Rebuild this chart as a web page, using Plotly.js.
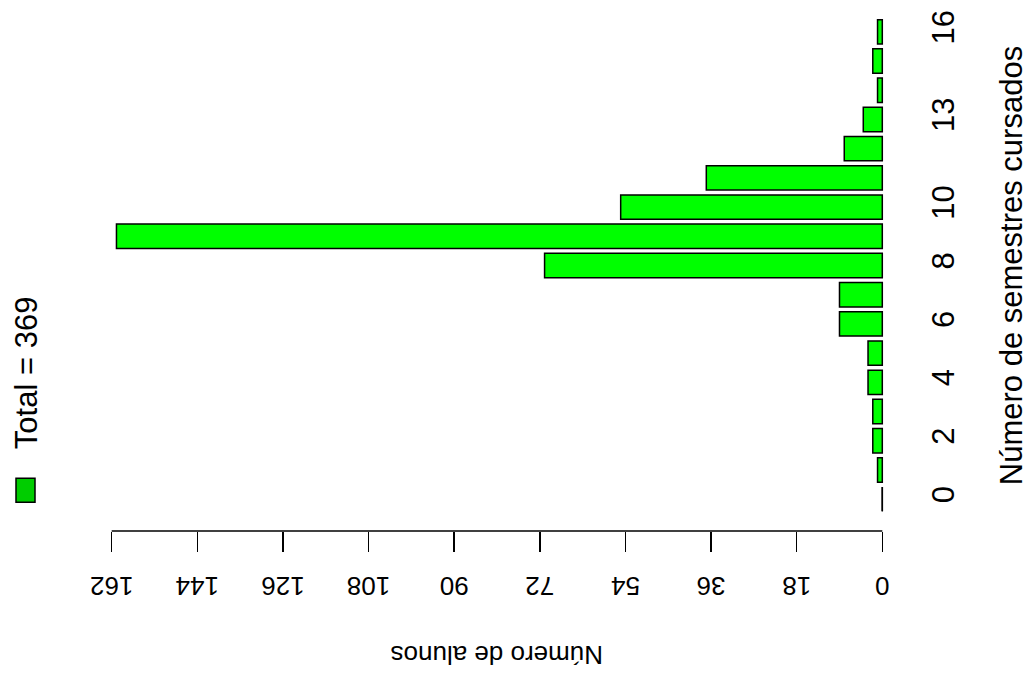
<!DOCTYPE html>
<html>
<head>
<meta charset="utf-8">
<script src="https://cdn.plot.ly/plotly-3.0.1.min.js"></script>
<style>html,body{margin:0;padding:0;background:#fff;}#chart{width:1033px;height:677px;}</style>
</head>
<body>
<div id="chart"></div>
<script>
// Data
const semestres = [0,1,2,3,4,5,6,7,8,9,10,11,12,13,14,15,16];
const alunos    = [0,1,2,2,3,3,9,9,71,161,55,37,8,4,1,2,1];
const semTickVals = [0,2,4,6,8,10,13,16];
const alunosTickVals = [0,18,36,54,72,90,108,126,144,162];
const legendText = "Total = 369";
const xTitle = "Número de alunos";
const yTitle = "Número de semestres cursados";

const FONT = "Liberation Sans, Arial, Helvetica, sans-serif";
const FS_ROT = 31;   // text reading bottom-to-top
const FS_INV = 26;   // upside-down text
const W = 1033, Hh = 677;
const L = 100, R = 890, T = 0, B = 530.8;
const PW = R - L, PH = B - T;
const k = 162 / (882.3 - 111.7);
const xRange = [162 + (111.7 - L) * k, 0 - (R - 882.3) * k];
const yRange = [-1.09, 17.09];
const barW = 1 / 1.2;

function pX(px) { return (px - L) / PW; }
function pY(py) { return (B - py) / PH; }

const shapes = [];
// value axis line from first to last tick
shapes.push({type:'line', xref:'x', yref:'paper', x0:alunosTickVals[0], x1:alunosTickVals[alunosTickVals.length-1], y0:0, y1:0, line:{color:'#000', width:1.5}});
// zero-height bars drawn as lines (as R does)
semestres.forEach((s, i) => {
  if (alunos[i] === 0) {
    shapes.push({type:'line', xref:'x', yref:'y', x0:0, x1:0, y0:s - barW/2, y1:s + barW/2, line:{color:'#000', width:1.5}});
  }
});
// legend box
shapes.push({type:'rect', xref:'paper', yref:'paper', x0:pX(16), x1:pX(35), y0:pY(502), y1:pY(478), fillcolor:'#00CD00', line:{color:'#000', width:1.5}});

const trace = {
  type:'bar', orientation:'h',
  x: alunos, y: semestres, width: barW,
  marker:{color:'#00FF00', line:{color:'#000', width:1.5}},
  hoverinfo:'x+y'
};

const layout = {
  width: W, height: Hh,
  margin:{l:L, r:W - R, t:T, b:Hh - B, pad:0},
  paper_bgcolor:'#fff', plot_bgcolor:'#fff',
  showlegend:false,
  font:{family:FONT, size:24, color:'#000'},
  xaxis:{
    range:xRange, tickmode:'array', tickvals:alunosTickVals, ticktext:alunosTickVals.map(String),
    ticks:'outside', ticklen:20, tickwidth:1.5, tickcolor:'#000',
    showline:false, showgrid:false, zeroline:false, tickangle:180,
    tickfont:{family:FONT, size:FS_INV, color:'#000'}, ticklabelstandoff:20
  },
  yaxis:{
    range:yRange, side:'right', tickmode:'array', tickvals:semTickVals, ticktext:semTickVals.map(String),
    ticks:'', showline:false, showgrid:false, zeroline:false, tickangle:-90,
    tickfont:{family:FONT, size:FS_ROT, color:'#000'}, ticklabelstandoff:32,
    title:{text:yTitle, font:{family:FONT, size:FS_ROT, color:'#000'}, standoff:40}
  },
  shapes: shapes,
  annotations:[
    {text:xTitle, xref:'paper', yref:'paper', x:pX(497), y:pY(655), xanchor:'center', yanchor:'middle', showarrow:false, textangle:180, font:{family:FONT, size:FS_INV, color:'#000'}},
    {text:legendText, xref:'paper', yref:'paper', x:pX(26), y:pY(373), xanchor:'center', yanchor:'middle', showarrow:false, textangle:-90, font:{family:FONT, size:FS_ROT, color:'#000'}}
  ]
};

Plotly.newPlot('chart', [trace], layout, {displayModeBar:false, staticPlot:true});
</script>
</body>
</html>
